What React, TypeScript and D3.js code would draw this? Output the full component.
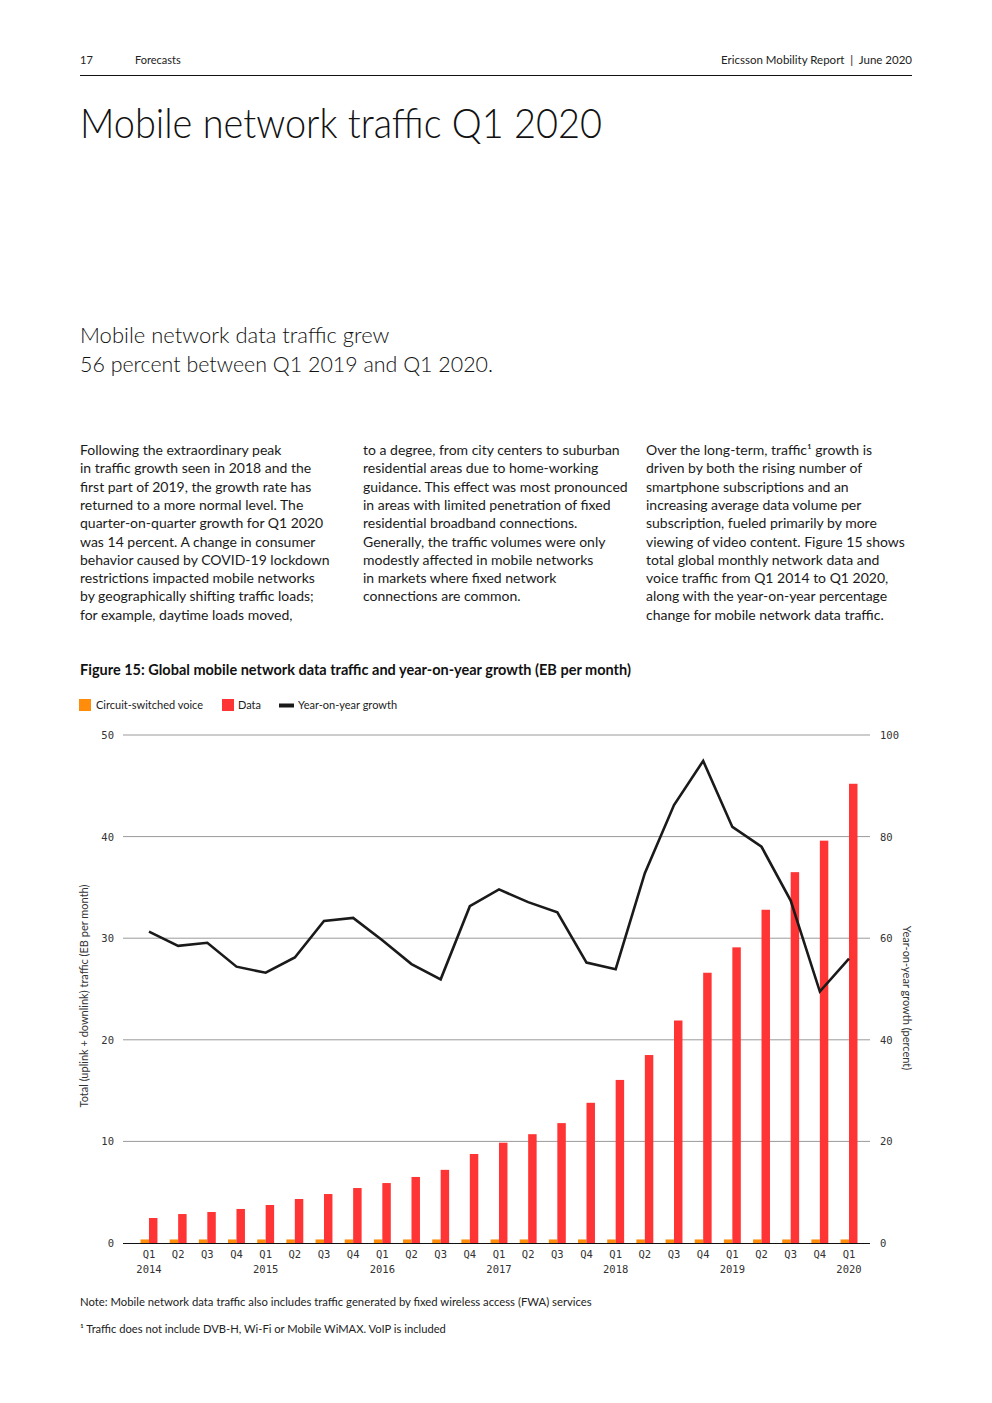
import React from "react";
import * as d3 from "d3";

const quarters = ["Q1","Q2","Q3","Q4","Q1","Q2","Q3","Q4","Q1","Q2","Q3","Q4","Q1","Q2","Q3","Q4","Q1","Q2","Q3","Q4","Q1","Q2","Q3","Q4","Q1"];
const years = ["2014","","","","2015","","","","2016","","","","2017","","","","2018","","","","2019","","","","2020"];
const voice = [0.35,0.35,0.35,0.35,0.35,0.35,0.35,0.35,0.35,0.35,0.35,0.35,0.35,0.35,0.35,0.35,0.35,0.35,0.35,0.35,0.35,0.35,0.35,0.35,0.35];
const data = [2.46,2.85,3.05,3.35,3.74,4.33,4.82,5.41,5.9,6.5,7.2,8.76,9.87,10.71,11.8,13.8,16.05,18.5,21.9,26.6,29.1,32.8,36.5,39.6,45.2];
const growth = [61.3,58.5,59.1,54.4,53.2,56.2,63.4,64.0,59.6,54.9,51.9,66.3,69.6,67.1,65.1,55.2,53.9,72.8,86.2,94.9,81.9,78.0,67.4,49.5,56.0];
const leftTicks = [0,10,20,30,40,50];
const rightTicks = [0,20,40,60,80,100];

const col1 = [
  "Following the extraordinary peak",
  "in traffic growth seen in 2018 and the",
  "first part of 2019, the growth rate has",
  "returned to a more normal level. The",
  "quarter-on-quarter growth for Q1 2020",
  "was 14 percent. A change in consumer",
  "behavior caused by COVID-19 lockdown",
  "restrictions impacted mobile networks",
  "by geographically shifting traffic loads;",
  "for example, daytime loads moved,",
];
const col2 = [
  "to a degree, from city centers to suburban",
  "residential areas due to home-working",
  "guidance. This effect was most pronounced",
  "in areas with limited penetration of fixed",
  "residential broadband connections.",
  "Generally, the traffic volumes were only",
  "modestly affected in mobile networks",
  "in markets where fixed network",
  "connections are common.",
];
const col3 = [
  "Over the long-term, traffic\u00B9 growth is",
  "driven by both the rising number of",
  "smartphone subscriptions and an",
  "increasing average data volume per",
  "subscription, fueled primarily by more",
  "viewing of video content. Figure 15 shows",
  "total global monthly network data and",
  "voice traffic from Q1 2014 to Q1 2020,",
  "along with the year-on-year percentage",
  "change for mobile network data traffic.",
];

const FONT = "Lato, 'Open Sans', sans-serif";
const MONO = "'DejaVu Sans Mono', monospace";
const ORANGE = "#FF8C0A";
const RED = "#FF3434";

export default function App() {
  const W = 992, H = 1403;
  const ids = quarters.map((_, i) => String(i));
  const x = d3.scaleBand<string>().domain(ids).range([134.4, 863.6]).paddingInner(0.42).paddingOuter(0.21);
  const sub = d3.scaleBand<string>().domain(["voice", "data"]).range([0, x.bandwidth()]);
  const yL = d3.scaleLinear().domain([0, 50]).range([1243, 735]);
  const yR = d3.scaleLinear().domain([0, 100]).range([1243, 735]);
  const line = d3.line<number>()
    .x((_, i) => (x(String(i)) as number) + x.bandwidth() / 2)
    .y((d) => yR(d));
  const gx0 = 123, gx1 = 870;

  const col = (lines: string[], x0: number) =>
    lines.map((t, i) => (
      <text key={i} x={x0} y={455 + i * 18.3} fontSize={14} fill="#1a1a1a" fontFamily={FONT}>{t}</text>
    ));

  return (
    <svg width={W} height={H} viewBox={`0 0 ${W} ${H}`} style={{ position: "absolute", left: 0, top: 0, background: "#fff" }}>
      {/* header */}
      <text x={80} y={64} fontSize={11} fontFamily={FONT} fill="#222">17</text>
      <text x={135} y={64} fontSize={11} fontFamily={FONT} fill="#222">Forecasts</text>
      <text x={912} y={64} fontSize={11.5} fontFamily={FONT} fill="#222" textAnchor="end" xmlSpace="preserve">Ericsson Mobility Report  |  June 2020</text>
      <line x1={80} x2={912} y1={75.5} y2={75.5} stroke="#111" strokeWidth={1} />
      {/* title */}
      <text x={80} y={138} fontSize={42} fontWeight={300} fontFamily={FONT} fill="#111" textLength={522} lengthAdjust="spacingAndGlyphs">Mobile network traffic Q1 2020</text>
      <text x={80} y={343} fontSize={22} fontWeight={300} fontFamily={FONT} fill="#111">Mobile network data traffic grew</text>
      <text x={80} y={372} fontSize={22} fontWeight={300} fontFamily={FONT} fill="#111" textLength={413} lengthAdjust="spacingAndGlyphs">56 percent between Q1 2019 and Q1 2020.</text>
      {/* body */}
      {col(col1, 80)}
      {col(col2, 363)}
      {col(col3, 646)}
      {/* figure caption */}
      <text x={80} y={675} fontSize={14.5} fontWeight={700} fontFamily={FONT} fill="#111">Figure 15: Global mobile network data traffic and year-on-year growth (EB per month)</text>
      {/* legend */}
      <rect x={79} y={699} width={12} height={12} fill={ORANGE} />
      <text x={96} y={709} fontSize={11} fontFamily={FONT} fill="#222">Circuit-switched voice</text>
      <rect x={222} y={699} width={12} height={12} fill={RED} />
      <text x={238} y={709} fontSize={11} fontFamily={FONT} fill="#222">Data</text>
      <rect x={279} y={703.5} width={15} height={4} fill="#1a1a1a" />
      <text x={298} y={709} fontSize={11} fontFamily={FONT} fill="#222">Year-on-year growth</text>

      {/* gridlines */}
      {leftTicks.filter((t) => t > 0).map((t) => (
        <line key={t} x1={gx0} x2={gx1} y1={yL(t)} y2={yL(t)} stroke="#9a9a9a" strokeWidth={1} />
      ))}
      {leftTicks.map((t) => (
        <text key={t} x={114} y={yL(t) + 4} fontSize={10.5} fontFamily={MONO} fill="#333" textAnchor="end">{t}</text>
      ))}
      {rightTicks.map((t) => (
        <text key={t} x={880} y={yR(t) + 4} fontSize={10.5} fontFamily={MONO} fill="#333">{t}</text>
      ))}

      {/* bars */}
      {ids.map((id, i) => (
        <g key={id}>
          <rect x={(x(id) as number) + (sub("voice") as number)} y={yL(voice[i])} width={sub.bandwidth()} height={yL(0) - yL(voice[i])} fill={ORANGE} />
          <rect x={(x(id) as number) + (sub("data") as number)} y={yL(data[i])} width={sub.bandwidth()} height={yL(0) - yL(data[i])} fill={RED} />
        </g>
      ))}
      <line x1={gx0} x2={gx1} y1={yL(0) + 0.5} y2={yL(0) + 0.5} stroke="#111" strokeWidth={1.2} />

      {/* growth line */}
      <path d={line(growth) || ""} fill="none" stroke="#1a1a1a" strokeWidth={2.6} strokeLinejoin="miter" />

      {/* x labels */}
      {ids.map((id, i) => {
        const cx = (x(id) as number) + x.bandwidth() / 2;
        return (
          <g key={id}>
            <text x={cx} y={1258} fontSize={10.5} fontFamily={MONO} fill="#333" textAnchor="middle">{quarters[i]}</text>
            {years[i] && <text x={cx} y={1273} fontSize={10.5} fontFamily={MONO} fill="#333" textAnchor="middle">{years[i]}</text>}
          </g>
        );
      })}

      {/* axis titles */}
      <text transform="translate(88,996) rotate(-90)" fontSize={11} fontFamily={FONT} fill="#333" textAnchor="middle">Total (uplink + downlink) traffic (EB per month)</text>
      <text transform="translate(903,998) rotate(90)" fontSize={11} fontFamily={FONT} fill="#333" textAnchor="middle">Year-on-year growth (percent)</text>

      {/* notes */}
      <text x={80} y={1306} fontSize={11.3} fontFamily={FONT} fill="#222">Note: Mobile network data traffic also includes traffic generated by fixed wireless access (FWA) services</text>
      <text x={80} y={1333} fontSize={11.2} fontFamily={FONT} fill="#222">{"\u00B9 Traffic does not include DVB-H, Wi-Fi or Mobile WiMAX. VoIP is included"}</text>
    </svg>
  );
}
